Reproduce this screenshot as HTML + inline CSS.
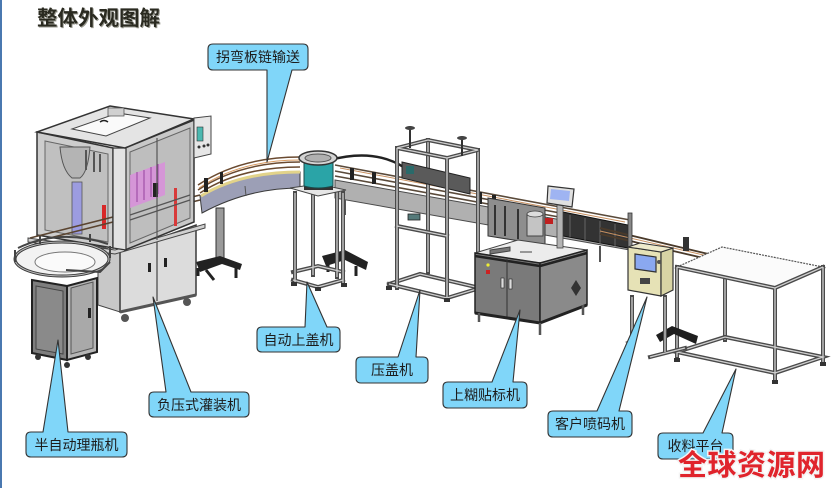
<!DOCTYPE html>
<html><head><meta charset="utf-8"><style>
html,body{margin:0;padding:0;background:#fff;}
body{width:831px;height:488px;overflow:hidden;position:relative;}
svg{position:absolute;left:0;top:0;}
.p1{stroke:#4a4a4a;stroke-width:4;fill:none;stroke-linecap:square}
.p2{stroke:#cfcfcf;stroke-width:1.3;fill:none}
.ln{stroke:#333;stroke-width:1;fill:none}
.co{fill:#80d6f9;stroke:#333;stroke-width:1.1;stroke-linejoin:round}
.ct{font-family:"Liberation Sans","Noto Sans CJK SC","WenQuanYi Zen Hei",sans-serif;font-size:14px;fill:#1c1c1c;text-anchor:middle}
</style></head><body>
<svg width="831" height="488" viewBox="0 0 831 488" xmlns="http://www.w3.org/2000/svg">
<rect x="0" y="0" width="2" height="488" fill="#4a78b0"/>
<text x="38" y="26" font-family="'Liberation Sans','Noto Sans CJK SC','WenQuanYi Zen Hei',sans-serif" font-size="20.5" font-weight="bold" fill="#9a9a90">整体外观图解</text>
<text x="37" y="25" font-family="'Liberation Sans','Noto Sans CJK SC','WenQuanYi Zen Hei',sans-serif" font-size="20.5" font-weight="bold" fill="#2a2a20">整体外观图解</text>

<!-- ===== curved conveyor stand ===== -->
<rect x="216" y="208" width="8" height="52" fill="#9a9a9a" stroke="#333" stroke-width="1"/>
<path d="M196,262 L220,256 L242,264 L240,270 L222,264 L200,272 Z" fill="#222"/>
<path d="M206,270 L214,280 M236,268 L236,278 M198,268 L198,276" stroke="#222" stroke-width="3"/>
<!-- bowl stand black base -->
<path d="M322,256 L345,250 L368,262 L366,270 L345,260 L326,266 Z" fill="#222"/>
<path d="M356,266 L356,276 M328,262 L328,272" stroke="#222" stroke-width="3"/>

<!-- ===== straight conveyor band ===== -->
<path d="M335,180 L630,232 L630,250 L335,198 Z" fill="#b0b0b0" stroke="#4a4a4a" stroke-width="1"/>
<path d="M335,165 L630,220 M335,171 L630,226 M335,176 L630,230" stroke="#5a4a3a" stroke-width="1.6" fill="none"/>
<path d="M340,168 L625,222" stroke="#c89060" stroke-width="1" fill="none"/>
<path d="M345,200 L345,215 M560,240 L560,252 M600,246 L600,262" stroke="#555" stroke-width="2"/>
<path d="M330,160 Q375,148 405,168" stroke="#222" stroke-width="2.4" fill="none"/>
<path d="M350,168 l4,0 l0,12 l-4,0 Z M372,172 l4,0 l0,12 l-4,0 Z M478,192 l4,0 l0,12 l-4,0 Z M492,195 l4,0 l0,12 l-4,0 Z" fill="#222"/>
<rect x="408" y="214" width="12" height="6" fill="#557a7a" stroke="#222" stroke-width="0.8"/>

<!-- ===== curved conveyor ===== -->
<path d="M200,196 Q240,172 300,172 L300,188 Q248,188 202,213 Z" fill="#9c9fb6" stroke="#3a3a3a" stroke-width="1"/>
<path d="M201,196 Q240,172 300,172" stroke="#e2d38a" stroke-width="3" fill="none"/>
<path d="M198,190 Q240,162 300,162 M198,185 Q240,157 300,157 M200,193 Q240,167 300,167" stroke="#6a4a30" stroke-width="1.5" fill="none"/>
<path d="M199,188 Q240,160 300,160" stroke="#d89a60" stroke-width="1" fill="none"/>
<path d="M245,186 L246,196" stroke="#555" stroke-width="1"/>
<path d="M204,178 l4,0 l0,14 l-4,0 Z M220,172 l3,0 l0,12 l-3,0 Z" fill="#222"/>

<!-- ===== capping frame (压盖机) ===== -->
<path class="p1" d="M428,140 L428,272 M478,150 L478,288 M389,284 L420,274 L480,288"/>
<path class="p2" d="M428,140 L428,272 M478,150 L478,288 M389,284 L420,274 L480,288"/>
<path d="M402,162 L470,178 L470,194 L402,178 Z" fill="#5a5a5a" stroke="#222" stroke-width="1"/>
<rect x="406" y="166" width="8" height="8" fill="#2a6a6a"/>
<path class="p1" d="M397,148 L397,288 M447,158 L447,298 M397,148 L447,158 L478,150 L428,140 Z M389,284 L447,298 L480,288 M397,226 L447,236"/>
<path class="p2" d="M397,148 L397,288 M447,158 L447,298 M397,148 L447,158 L478,150 L428,140 Z M389,284 L447,298 L480,288 M397,226 L447,236"/>
<path d="M410,126 L410,148 M462,136 L462,156" stroke="#333" stroke-width="2"/>
<ellipse cx="410" cy="128" rx="5" ry="2" fill="#444"/><ellipse cx="462" cy="138" rx="5" ry="2" fill="#444"/>
<path d="M386,286 l6,0 l0,4 l-6,0 Z M444,298 l6,0 l0,4 l-6,0 Z M476,288 l6,0 l0,4 l-6,0 Z" fill="#333"/>

<!-- ===== bowl stand ===== -->
<path class="p1" d="M313,190 L313,275 M337,190 L337,277 M293,272 L318,266 L343,272"/>
<path class="p2" d="M313,190 L313,275 M337,190 L337,277 M293,272 L318,266 L343,272"/>
<path d="M290,188 L318,184 L346,190 L318,196 Z" fill="#e6e6e6" stroke="#444" stroke-width="1"/>
<path class="p1" d="M295,193 L295,282 M343,193 L343,283 M293,280 L318,287 L343,280"/>
<path class="p2" d="M295,193 L295,282 M343,193 L343,283 M293,280 L318,287 L343,280"/>
<path d="M291,282 l6,0 l0,4 l-6,0 Z M315,287 l6,0 l0,4 l-6,0 Z M341,283 l6,0 l0,4 l-6,0 Z" fill="#333"/>
<!-- bowl -->
<rect x="304" y="185" width="29" height="5" fill="#333"/>
<path d="M304,162 L333,162 L333,186 Q318,190 304,186 Z" fill="#2aa4a7" stroke="#1a4a4a" stroke-width="1"/>
<ellipse cx="318" cy="158" rx="19" ry="7" fill="#d4d4d4" stroke="#333" stroke-width="1.5"/>
<ellipse cx="318" cy="158" rx="13" ry="4" fill="#b0b0b0" stroke="#555" stroke-width="1"/>

<!-- ===== filling machine (负压式灌装机) ===== -->
<path d="M98,246 L120,252 L120,312 L98,305 Z" fill="#c8c8c8" stroke="#444" stroke-width="1"/>
<path d="M120,252 L196,225 L196,295 L120,312 Z" fill="#dcdcdc" stroke="#3a3a3a" stroke-width="1.5"/>
<path d="M157,240 L157,301" stroke="#444" stroke-width="1.2"/>
<rect x="148" y="263" width="3" height="9" fill="#222"/><rect x="164" y="258" width="3" height="9" fill="#222"/>
<path d="M120,312 L196,295" stroke="#555" stroke-width="3"/>
<circle cx="125" cy="318" r="4" fill="#555"/><circle cx="187" cy="302" r="4" fill="#555"/>
<path d="M28,238 L115,250 L205,224 L205,228 L115,254 L28,242 Z" fill="#d0d0d0" stroke="#444" stroke-width="1"/>
<path d="M37,132 L113,148 L113,248 L37,235 Z" fill="#cdcdcd" stroke="#333" stroke-width="1.5"/>
<path d="M45,141 L108,154 L108,242 L45,230 Z" fill="#c0c0c0" stroke="#666" stroke-width="1"/>
<path d="M60,147 L90,147 Q88,172 80,178 L72,178 Q62,170 60,147 Z" fill="#b4b4b4" stroke="#555" stroke-width="1"/>
<rect x="72" y="182" width="10" height="52" fill="#9c9ce0" stroke="#555" stroke-width="0.8"/>
<rect x="102" y="205" width="4" height="24" fill="#d82828"/>
<path d="M86,150 l0,20 M94,152 l0,20 M100,154 l0,18" stroke="#555" stroke-width="2"/>
<path d="M30,238 L200,195 M30,243 L200,200" stroke="#5a4430" stroke-width="1.6"/>
<path d="M125,148 L194,120 L194,222 L125,250 Z" fill="#c8c8c8" stroke="#333" stroke-width="1.5"/>
<path d="M130,152 L190,128 L190,218 L130,243 Z" fill="#bebebe" stroke="#666" stroke-width="1"/>
<path d="M130,175 L165,162 L165,195 L130,208 Z" fill="#d98fdc" opacity="0.85"/>
<path d="M137,172 l0,30 M144,170 l0,30 M151,167 l0,30 M158,164 l0,30" stroke="#a050a8" stroke-width="1.2"/>
<rect x="174" y="188" width="3" height="38" fill="#d83a3a"/>
<rect x="153" y="183" width="5" height="14" fill="#222"/>
<path d="M157,138 L157,240" stroke="#555" stroke-width="1.2"/>
<path d="M130,215 L190,195 M130,220 L190,200" stroke="#555" stroke-width="1.2"/>
<path d="M113,148 L126,148 L126,250 L113,248 Z" fill="#e2e2e2" stroke="#333" stroke-width="1.2"/>
<path d="M37,132 L110,106 L194,119 L125,148 Z" fill="#e4e4e4" stroke="#333" stroke-width="1.5"/>
<path d="M72,129 L118,113 L150,118 L106,136 Z" fill="#fafafa" stroke="#444" stroke-width="1"/>
<path d="M100,122 q4,-3 8,0" stroke="#222" stroke-width="1.5" fill="none"/>
<path d="M108,108 L124,108 L124,116 L108,116 Z" fill="#d0d0d0" stroke="#555" stroke-width="0.8"/>
<path d="M194,118 L211,116 L211,154 L194,158 Z" fill="#e6e6e6" stroke="#444" stroke-width="1"/>
<rect x="197" y="127" width="6" height="14" fill="#4cb8b0" stroke="#333" stroke-width="0.6"/>
<circle cx="199" cy="147" r="1.5" fill="#333"/><circle cx="204" cy="146" r="1.5" fill="#333"/><circle cx="208" cy="145" r="1.5" fill="#333"/>

<!-- ===== bottle sorter (半自动理瓶机) ===== -->
<ellipse cx="62" cy="259" rx="47" ry="17" fill="#f2f2f2" stroke="#3a3a3a" stroke-width="3"/>
<ellipse cx="62" cy="259" rx="47" ry="17" fill="none" stroke="#bbb" stroke-width="1"/>
<ellipse cx="65" cy="262" rx="30" ry="10" fill="#fafafa" stroke="#777" stroke-width="1"/>
<path d="M15,262 L15,250 M110,258 L110,246 M40,244 L40,236 M90,242 L90,234" stroke="#444" stroke-width="2"/>
<path d="M18,248 Q60,228 108,244" stroke="#444" stroke-width="2" fill="none"/>
<path d="M66,270 L100,272 L110,262" stroke="#444" stroke-width="2" fill="none"/>
<path d="M32,280 L67,286 L67,360 L32,353 Z" fill="#7e7e7e" stroke="#222" stroke-width="2"/>
<path d="M36,286 L63,291 L63,354 L36,349 Z" fill="#8a8a8a" stroke="#444" stroke-width="1"/>
<path d="M67,286 L97,278 L97,352 L67,360 Z" fill="#b6b6b6" stroke="#222" stroke-width="2"/>
<path d="M71,288 L93,282 L93,348 L71,354 Z" fill="#a9a9a9" stroke="#555" stroke-width="1"/>
<rect x="88" y="308" width="3" height="10" fill="#222"/>
<circle cx="38" cy="357" r="3" fill="#333"/><circle cx="67" cy="365" r="3" fill="#333"/><circle cx="88" cy="357" r="3" fill="#333"/>

<!-- ===== labeler (上糊贴标机) ===== -->
<path d="M563,212 L628,225 L628,248 L563,236 Z" fill="#333" stroke="#111" stroke-width="1"/>
<path d="M570,215 l0,22 M585,218 l0,22 M600,221 l0,22 M615,224 l0,22" stroke="#666" stroke-width="1"/>
<path d="M488,198 L545,208 L545,245 L488,236 Z" fill="#8e8e8e" stroke="#333" stroke-width="1"/>
<path d="M495,205 l0,30 M505,206 l0,30 M518,209 l0,30" stroke="#333" stroke-width="2"/>
<path d="M527,214 L543,214 L543,236 L527,236 Z" fill="#c4c4c4" stroke="#444" stroke-width="1"/>
<ellipse cx="535" cy="214" rx="8" ry="3" fill="#ddd" stroke="#444" stroke-width="0.8"/>
<rect x="545" y="218" width="8" height="6" fill="#c02020"/>
<path d="M475,253 L518,240 L587,250 L540,263 Z" fill="#ececec" stroke="#444" stroke-width="1"/>
<path d="M490,250 l20,-3 l0,4 l-20,3 Z M520,252 l12,0" stroke="#444" stroke-width="1" fill="#777"/>
<path d="M475,253 L540,263 L540,323 L475,313 Z" fill="#7a7a7a" stroke="#222" stroke-width="1.5"/>
<path d="M475,256 L540,266" stroke="#222" stroke-width="2.5"/>
<path d="M507,259 L507,318" stroke="#333" stroke-width="1"/>
<rect x="501" y="278" width="3" height="10" fill="#ddd" stroke="#222" stroke-width="0.6"/>
<rect x="509" y="279" width="3" height="10" fill="#ddd" stroke="#222" stroke-width="0.6"/>
<circle cx="488" cy="265" r="1.6" fill="#ee3"/><rect x="486" y="270" width="4" height="4" fill="#c22"/>
<path d="M540,263 L587,250 L587,305 L540,323 Z" fill="#8a8a8a" stroke="#222" stroke-width="1.5"/>
<path d="M540,266 L587,253" stroke="#222" stroke-width="2.5"/>
<path d="M576,280 l5,8 l-5,8 l-5,-8 Z" fill="#333"/>
<path d="M475,313 L540,323 L587,305" stroke="#222" stroke-width="3" fill="none"/>
<path d="M479,313 l0,9 M540,323 l0,12 M583,305 l0,10" stroke="#555" stroke-width="2.5"/>
<rect x="557" y="204" width="6" height="44" fill="#b4b4b4" stroke="#444" stroke-width="0.8"/>
<path d="M548,186 L574,189 L572,207 L547,203 Z" fill="#e0e0e0" stroke="#333" stroke-width="1.2"/>
<path d="M551,189 L570,191 L569,201 L550,199 Z" fill="#9fb4f2"/>

<!-- conveyor continuing right -->
<path d="M600,228 L725,258 M600,234 L725,263" stroke="#4a3a2a" stroke-width="1.8" fill="none"/>
<path d="M600,231 L725,260" stroke="#c89060" stroke-width="1" fill="none"/>
<rect x="628" y="213" width="4" height="38" fill="#888" stroke="#333" stroke-width="0.8"/>
<rect x="683" y="237" width="6" height="14" fill="#333"/>

<!-- ===== receiving table (收料平台) ===== -->
<path class="p1" d="M725,268 L725,340"/>
<path class="p2" d="M725,268 L725,340"/>
<path d="M677,267 L722,247 L823,267 L775,288 Z" fill="#fbfbfb" stroke="#555" stroke-width="1.2" stroke-dasharray="2,1"/>
<path class="p1" d="M677,267 L775,288 L823,267 M677,267 L677,357 M775,288 L775,380 M823,267 L823,362 M677,352 L775,373 L823,357 L725,337 Z"/>
<path class="p2" d="M677,267 L775,288 L823,267 M677,267 L677,357 M775,288 L775,380 M823,267 L823,362 M677,352 L775,373 L823,357 L725,337 Z"/>
<path d="M674,358 l6,0 l0,4 l-6,0 Z M772,380 l6,0 l0,4 l-6,0 Z M820,362 l6,0 l0,4 l-6,0 Z" fill="#333"/>

<!-- ===== coder (客户喷码机) ===== -->
<path d="M656,335 L672,326 L698,336 L696,344 L674,334 L660,342 Z" fill="#1e1e1e"/>
<path class="p1" d="M632,297 L632,347 M665,297 L665,352 M650,357 L685,348"/>
<path class="p2" d="M632,297 L632,347 M665,297 L665,352 M650,357 L685,348"/>
<path d="M625,342 l6,-2 l0,4 Z" fill="#222"/>
<path d="M628,247 L661,252 L661,296 L628,290 Z" fill="#e6e2b6" stroke="#333" stroke-width="1.2"/>
<path d="M661,252 L673,248 L673,290 L661,296 Z" fill="#d8d4a4" stroke="#333" stroke-width="1.2"/>
<path d="M628,247 L640,243 L673,248 L661,252 Z" fill="#eeeacc" stroke="#333" stroke-width="1"/>
<path d="M635,254 L656,257 L656,272 L635,269 Z" fill="#8aa8f0" stroke="#333" stroke-width="1.2"/>
<rect x="640" y="278" width="10" height="6" fill="#444"/>
<circle cx="659" cy="262" r="2" fill="#555"/>

<!-- ===== callouts ===== -->
<path class="co" d="M213,44 H303 Q308,44 308,49 V65 Q308,70 303,70 H292 L267,162 L267,70 H213 Q208,70 208,65 V49 Q208,44 213,44 Z"/>
<text class="ct" x="258" y="62">拐弯板链输送</text>

<path class="co" d="M262,327 H305 L307,282 L327,327 H335 Q340,327 340,332 V347 Q340,352 335,352 H262 Q257,352 257,347 V332 Q257,327 262,327 Z"/>
<text class="ct" x="298.5" y="345">自动上盖机</text>

<path class="co" d="M361,357 H398 L420,290 L416,357 H423 Q428,357 428,362 V378 Q428,383 423,383 H361 Q356,383 356,378 V362 Q356,357 361,357 Z"/>
<text class="ct" x="392" y="375">压盖机</text>

<path class="co" d="M154,392 H166 L153,297 L191,392 H244 Q249,392 249,397 V412 Q249,417 244,417 H154 Q149,417 149,412 V397 Q149,392 154,392 Z"/>
<text class="ct" x="199" y="410">负压式灌装机</text>

<path class="co" d="M31,432 H43 L58,340 L68,432 H122 Q127,432 127,437 V452 Q127,457 122,457 H31 Q26,457 26,452 V437 Q26,432 31,432 Z"/>
<text class="ct" x="76.5" y="450">半自动理瓶机</text>

<path class="co" d="M448,382 H492 L520,310 L513,382 H522 Q527,382 527,387 V403 Q527,408 522,408 H448 Q443,408 443,403 V387 Q443,382 448,382 Z"/>
<text class="ct" x="485" y="400">上糊贴标机</text>

<path class="co" d="M553,411 H597 L647,297 L619,411 H627 Q632,411 632,416 V432 Q632,437 627,437 H553 Q548,437 548,432 V416 Q548,411 553,411 Z"/>
<text class="ct" x="590" y="429">客户喷码机</text>

<path class="co" d="M663,433 H703 L736,369 L722,433 H728 Q733,433 733,438 V454 Q733,459 728,459 H663 Q658,459 658,454 V438 Q658,433 663,433 Z"/>
<text class="ct" x="695.5" y="451">收料平台</text>

<!-- ===== watermark ===== -->
<text x="678" y="475" font-family="'Liberation Sans','Noto Sans CJK SC','WenQuanYi Zen Hei',sans-serif" font-size="29" font-weight="bold" fill="#e0242c" stroke="#f4f4f4" stroke-width="3" paint-order="stroke" letter-spacing="0.5">全球资源网</text>
</svg>
</body></html>
